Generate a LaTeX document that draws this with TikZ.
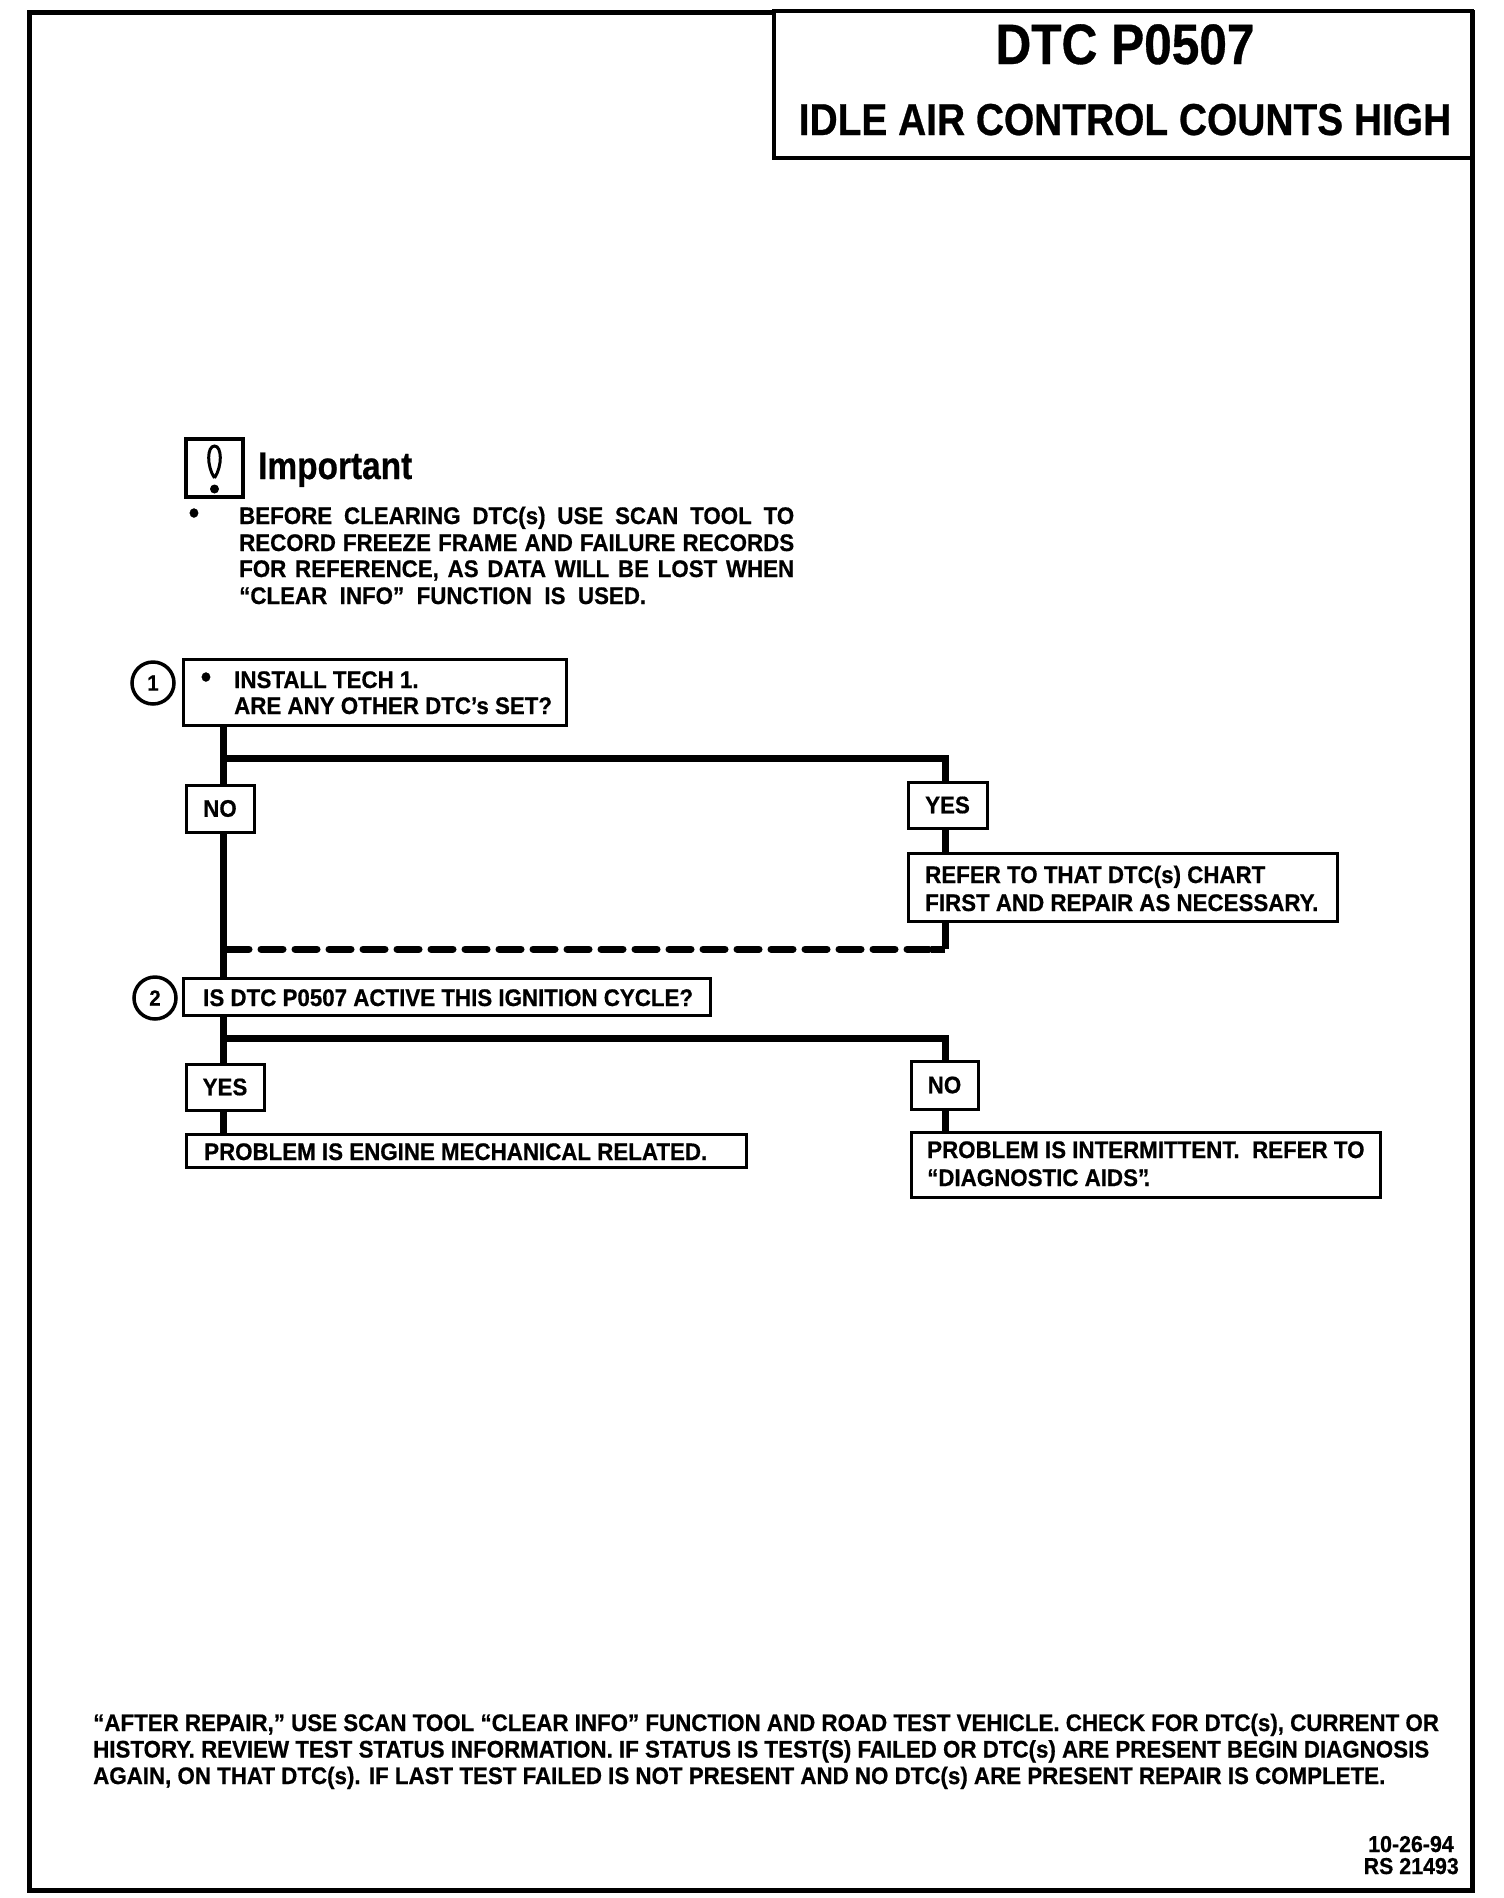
\documentclass[tikz,border=0pt]{standalone}
\usepackage{fontspec}
\setmainfont{Liberation Sans}
\newfontfamily\fa{Liberation Sans}[FakeStretch=0.87,FakeBold=0.6]
\newfontfamily\fb{Liberation Sans}[FakeStretch=0.93,FakeBold=0.6]
\begin{document}
\begin{tikzpicture}[x=1pt,y=-1pt,
  frame/.style={draw, line width=3pt, fill=white, inner sep=0pt, rectangle},
  lbl/.style={frame, font=\fb\bfseries\fontsize{24}{26}\selectfont},
  txt/.style={inner sep=0pt, anchor=base west, font=\fb\bfseries\fontsize{24}{26}\selectfont},
  flow/.style={line width=7pt},
  num/.style={circle, draw, line width=3.5pt, minimum size=42pt, inner sep=0pt, font=\fb\bfseries\fontsize{22}{24}\selectfont}]
\useasboundingbox (0,0) rectangle (1504,1898);
\fill[white] (0,0) rectangle (1504,1898);
% page frame
\draw[line width=5pt] (29,12) rectangle (1472,1890);
% title block
\node[frame, line width=4pt, minimum width=698pt, minimum height=147pt] (title) at (1123,84) {};
\node[inner sep=0pt, anchor=base, font=\fa\bfseries\fontsize{57}{60}\selectfont] (tt1) at (1125,64) {DTC P0507};
\node[inner sep=0pt, anchor=base, font=\fa\bfseries\fontsize{44.7}{48}\selectfont] (tt2) at (1125,135) {IDLE AIR CONTROL COUNTS HIGH};
% important
\node[frame, line width=4.5pt, minimum width=57pt, minimum height=58pt] (icon) at (214.5,468) {};
\draw[line width=3pt] (214.5,478) .. controls (206.5,466) and (207,446) .. (214.5,446) .. controls (222,446) and (222.5,466) .. (214.5,478);
\fill (214.5,489) circle (4.5pt);
\node[inner sep=0pt, anchor=base west, font=\fa\bfseries\fontsize{38.4}{40}\selectfont] (imp) at (258,479) {Important};
\node[inner sep=0pt, font=\fb\bfseries\fontsize{32}{32}\selectfont] (pb) at (194,516) {\textbullet};
\node[txt] (p1) at (239,524) {\makebox[555pt][s]{BEFORE CLEARING DTC(s) USE SCAN TOOL TO}};
\node[txt] (p2) at (239,551) {\makebox[555pt][s]{RECORD FREEZE FRAME AND FAILURE RECORDS}};
\node[txt] (p3) at (239,577) {\makebox[555pt][s]{FOR REFERENCE, AS DATA WILL BE LOST WHEN}};
\node[txt] (p4) at (239,604) {\makebox[407pt][s]{“CLEAR INFO” FUNCTION IS USED.}};
% step 1
\node[num] (c1) at (153,683) {1};
\node[frame, minimum width=383pt, minimum height=66pt] (b1) at (374.5,692) {};
\node[inner sep=0pt, font=\fb\bfseries\fontsize{32}{32}\selectfont] (b1d) at (206,680) {\textbullet};
\node[txt] (b1a) at (234,688) {INSTALL TECH 1.};
\node[txt] (b1b) at (234,714) {ARE ANY OTHER DTC’s SET?};
\node[lbl, minimum width=68pt, minimum height=47pt] (no1) at (220,808.5) {NO};
\node[lbl, minimum width=79pt, minimum height=46pt] (yes1) at (947.5,805) {YES};
\node[frame, minimum width=429pt, minimum height=68pt] (refer) at (1122.5,887) {};
\node[txt] (ra) at (925,883) {REFER TO THAT DTC(s) CHART};
\node[txt] (rb) at (925,911) {FIRST AND REPAIR AS NECESSARY.};
% step 2
\node[num] (c2) at (155,998) {2};
\node[frame, minimum width=527pt, minimum height=37pt] (b2) at (446.5,996.5) {};
\node[txt] (b2a) at (203,1006) {IS DTC P0507 ACTIVE THIS IGNITION CYCLE?};
\node[lbl, minimum width=78pt, minimum height=46pt] (yes2) at (225,1087) {YES};
\node[lbl, minimum width=67pt, minimum height=48pt] (no2) at (944.5,1085) {NO};
\node[frame, minimum width=560pt, minimum height=33pt] (r1) at (466,1150.5) {};
\node[txt] (r1a) at (204,1160) {PROBLEM IS ENGINE MECHANICAL RELATED.};
\node[frame, minimum width=469pt, minimum height=65pt] (r2) at (1145.5,1164.5) {};
\node[txt] (r2a) at (927,1158) {PROBLEM IS INTERMITTENT.\ \ REFER TO};
\node[txt] (r2b) at (927,1186) {“DIAGNOSTIC AIDS”\kern-0.22em.};
% connectors
\coordinate (tx) at (223,0);
\coordinate (rx) at (945,0);
\coordinate (j1) at (223,758);
\coordinate (jd) at (223,949);
\coordinate (cd) at (945,949);
\coordinate (j2) at (223,1038);
\draw[flow] (b1.south -| tx) -- (no1.north -| tx);
\draw[flow] (j1) -| (yes1.north -| rx);
\draw[flow] (no1.south -| tx) -- (b2.north -| tx);
\draw[flow] (yes1.south -| rx) -- (refer.north -| rx);
\draw[flow] (refer.south -| rx) -- (cd);
\draw[flow, line cap=round, dash pattern=on 22pt off 12pt] (cd) ++(-16,0) -- (jd);
\draw[flow] (cd) -- ++(-14,0);
\draw[flow] (b2.south -| tx) -- (yes2.north -| tx);
\draw[flow] (j2) -| (no2.north -| rx);
\draw[flow] (yes2.south -| tx) -- (r1.north -| tx);
\draw[flow] (no2.south -| rx) -- (r2.north -| rx);
% footer
\node[txt] (f1) at (93,1731) {“AFTER REPAIR,” USE SCAN TOOL “CLEAR INFO” FUNCTION AND ROAD TEST VEHICLE. CHECK FOR DTC(s), CURRENT OR};
\node[txt] (f2) at (93,1757.5) {HISTORY. REVIEW TEST STATUS INFORMATION. IF STATUS IS TEST(S) FAILED OR DTC(s) ARE PRESENT BEGIN DIAGNOSIS};
\node[txt] (f3) at (93,1784) {AGAIN, ON THAT DTC(s). IF LAST TEST FAILED IS NOT PRESENT AND NO DTC(s) ARE PRESENT REPAIR IS COMPLETE.};
\node[inner sep=0pt, anchor=base east, font=\fb\bfseries\fontsize{23}{24}\selectfont] (d1) at (1454,1852) {10-26-94};
\node[inner sep=0pt, anchor=base east, font=\fb\bfseries\fontsize{23}{24}\selectfont] (d2) at (1459,1874) {RS 21493};
\end{tikzpicture}
\end{document}
